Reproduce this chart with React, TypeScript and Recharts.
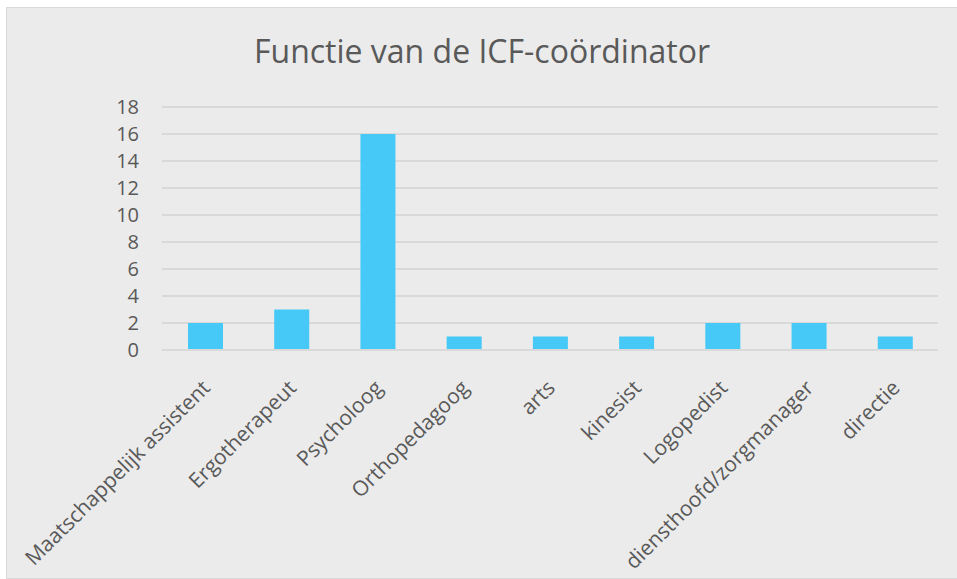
import React from 'react';
import { BarChart, Bar, XAxis, YAxis, CartesianGrid } from 'recharts';

const functies = ['Maatschappelijk assistent', 'Ergotherapeut', 'Psycholoog', 'Orthopedagoog', 'arts', 'kinesist', 'Logopedist', 'diensthoofd/zorgmanager', 'directie'];
const aantallen = [2, 3, 16, 1, 1, 1, 2, 2, 1];
const yTicks = [0, 2, 4, 6, 8, 10, 12, 14, 16, 18];

const data = functies.map((f, i) => ({ functie: f, aantal: aantallen[i] }));

const FONT = '"Open Sans", sans-serif';
const TXT = '#595959';

function RotTick(props: any) {
  const { x, y, payload } = props;
  return (
    <g transform={`translate(${x + 2},${y + 27})`}>
      <text transform="rotate(-45)" textAnchor="end" fill={TXT} fontSize={21} fontFamily={FONT} dy={6}>
        {payload.value}
      </text>
    </g>
  );
}

export default function App() {
  return (
    <div style={{ position: 'absolute', left: 0, top: 0, width: 957, height: 579, background: '#fff' }}>
      <div style={{ position: 'absolute', left: 6, top: 7, width: 950, height: 570, background: '#ebebeb', border: '1px solid #d9d9d9' }}>
        <div style={{ position: 'absolute', left: 0, top: 21, width: 950, textAlign: 'center', fontFamily: FONT, fontSize: 32, color: TXT }}>
          Functie van de ICF-coördinator
        </div>
        <BarChart width={950} height={570} data={data} margin={{ top: 99, right: 19, bottom: 0, left: 0 }}>
          <CartesianGrid vertical={false} stroke="#d9d9d9" strokeWidth={2} />
          <XAxis dataKey="functie" interval={0} height={228} tickLine={false} axisLine={{ stroke: '#d9d9d9', strokeWidth: 2 }} tick={<RotTick />} />
          <YAxis width={155} domain={[0, 18]} ticks={yTicks} interval={0} tickLine={false} axisLine={false} tickSize={0} tickMargin={23}
            tick={{ fill: TXT, fontSize: 20, fontFamily: FONT }} />
          <Bar dataKey="aantal" fill="#46c9f6" barSize={35} isAnimationActive={false} />
        </BarChart>
      </div>
    </div>
  );
}
